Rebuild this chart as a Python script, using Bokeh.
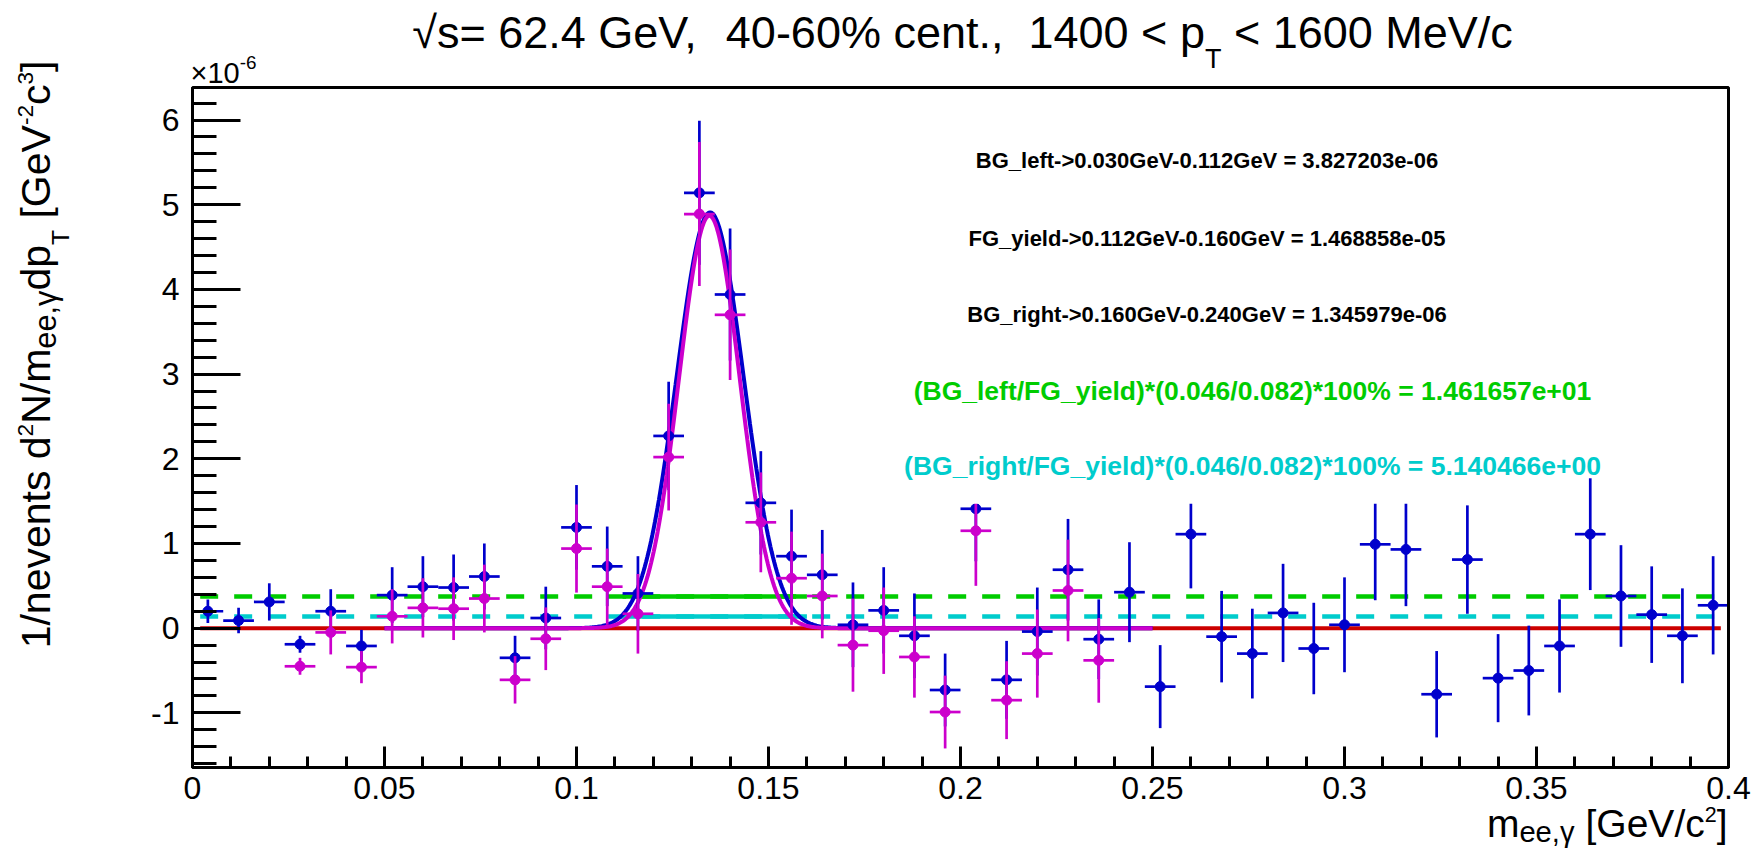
import math
import numpy as np
from bokeh.plotting import figure
from bokeh.models import Label, BoxAnnotation, SingleIntervalTicker, CustomJSTickFormatter, Range1d
from bokeh.embed import file_html
from bokeh.resources import INLINE

# ---------------- data (yields in units of 1e-6) ----------------
mass_bins = [0.004, 0.012, 0.020, 0.028, 0.036, 0.044, 0.052, 0.060, 0.068, 0.076,
             0.084, 0.092, 0.100, 0.108, 0.116, 0.124, 0.132, 0.140, 0.148, 0.156,
             0.164, 0.172, 0.180, 0.188, 0.196, 0.204, 0.212, 0.220, 0.228, 0.236,
             0.244, 0.252, 0.260, 0.268, 0.276, 0.284, 0.292, 0.300, 0.308, 0.316,
             0.324, 0.332, 0.340, 0.348, 0.356, 0.364, 0.372, 0.380, 0.388, 0.396]
raw_yield = [0.20, 0.09, 0.31, -0.19, 0.20, -0.21, 0.39, 0.49, 0.48, 0.61,
             -0.35, 0.12, 1.19, 0.73, 0.41, 2.27, 5.14, 3.94, 1.48, 0.85,
             0.63, 0.04, 0.21, -0.09, -0.73, 1.41, -0.61, -0.04, 0.69, -0.13,
             0.425, -0.69, 1.11, -0.10, -0.30, 0.18, -0.24, 0.04, 0.99, 0.93,
             -0.78, 0.81, -0.59, -0.50, -0.21, 1.11, 0.38, 0.16, -0.09, 0.27]
raw_err = [0.14, 0.15, 0.22, 0.10, 0.26, 0.19, 0.33, 0.36, 0.39, 0.39,
           0.26, 0.37, 0.50, 0.47, 0.44, 0.64, 0.85, 0.78, 0.61, 0.55,
           0.53, 0.50, 0.51, 0.50, 0.43, 0.62, 0.46, 0.52, 0.60, 0.47,
           0.59, 0.49, 0.64, 0.54, 0.53, 0.58, 0.54, 0.56, 0.66, 0.67,
           0.51, 0.64, 0.52, 0.53, 0.55, 0.66, 0.60, 0.57, 0.56, 0.58]

sub_mass = [0.028, 0.036, 0.044, 0.052, 0.060, 0.068, 0.076, 0.084, 0.092, 0.100,
            0.108, 0.116, 0.124, 0.132, 0.140, 0.148, 0.156, 0.164, 0.172, 0.180,
            0.188, 0.196, 0.204, 0.212, 0.220, 0.228, 0.236]
sub_yield = [-0.45, -0.05, -0.46, 0.14, 0.24, 0.23, 0.35, -0.61, -0.125, 0.94,
             0.49, 0.17, 2.02, 4.89, 3.70, 1.25, 0.59, 0.38, -0.20, -0.03,
             -0.34, -0.99, 1.15, -0.85, -0.30, 0.445, -0.38]
sub_err = [0.10, 0.26, 0.19, 0.32, 0.35, 0.37, 0.40, 0.28, 0.37, 0.52,
           0.45, 0.47, 0.63, 0.85, 0.77, 0.59, 0.55, 0.50, 0.55, 0.51,
           0.48, 0.43, 0.65, 0.46, 0.52, 0.60, 0.50]

bin_half_width = 0.004

bg_left_level = 0.373
bg_right_level = 0.137
fg_window = [0.112, 0.160]
level_span = [0.002, 0.398]

raw_fit = {"amp": 4.91, "mean": 0.1348, "sigma": 0.0087}
sub_fit = {"amp": 4.87, "mean": 0.1346, "sigma": 0.0079}
fit_span = [0.05, 0.25]

stat_lines = [
    ("BG_left->0.030GeV-0.112GeV = 3.827203e-06", "#000000"),
    ("FG_yield->0.112GeV-0.160GeV = 1.468858e-05", "#000000"),
    ("BG_right->0.160GeV-0.240GeV = 1.345979e-06", "#000000"),
    ("(BG_left/FG_yield)*(0.046/0.082)*100% = 1.461657e+01", "#00cc00"),
    ("(BG_right/FG_yield)*(0.046/0.082)*100% = 5.140466e+00", "#00cccc"),
]

BLUE, MAG, RED, GREEN, CYAN = "#0000cc", "#cc00cc", "#cc0000", "#00cc00", "#00cccc"
FONT = "Liberation Sans"
MID = 0.3465   # em offset from the alphabetic baseline to the text middle

# ---------------- page geometry (page pixels, origin top-left) ----------------
PAGE_W, PAGE_H = 1760, 850
FL, FR, FT, FB = 192, 1728, 87, 767   # the ROOT frame on the page
X0, X1 = 0.0, 0.4
Y0, Y1 = -1.645, 6.384


def dx(px):
    return X0 + (px - FL) * (X1 - X0) / (FR - FL)


def dy(py):
    return Y1 - (py - FT) * (Y1 - Y0) / (FB - FT)


REG = {' ': 278, '!': 278, '%': 889, '(': 333, ')': 333, '*': 389, '+': 584, ',': 278,
       '-': 333, '.': 278, '/': 278, ':': 278, '<': 584, '=': 584, '>': 584, '[': 278,
       ']': 278, '_': 556, '\u221a': 549, '\u03b3': 500, '\u00d7': 584,
       'A': 667, 'B': 667, 'C': 722, 'D': 722, 'E': 667, 'F': 611, 'G': 778, 'H': 722,
       'I': 278, 'J': 500, 'K': 667, 'L': 556, 'M': 833, 'N': 722, 'O': 778, 'P': 667,
       'Q': 778, 'R': 722, 'S': 667, 'T': 611, 'U': 722, 'V': 667, 'W': 944, 'X': 667,
       'Y': 667, 'Z': 611, 'a': 556, 'b': 556, 'c': 500, 'd': 556, 'e': 556, 'f': 278,
       'g': 556, 'h': 556, 'i': 222, 'j': 222, 'k': 500, 'l': 222, 'm': 833, 'n': 556,
       'o': 556, 'p': 556, 'q': 556, 'r': 333, 's': 500, 't': 278, 'u': 556, 'v': 500,
       'w': 722, 'x': 500, 'y': 500, 'z': 500}
for ch in "0123456789":
    REG[ch] = 556


def tw(s, size):
    return sum(REG.get(c, 556) for c in s) * size / 1000.0


def runs_width(runs, F):
    return sum(tw(t, F * sc) for t, sc, sh in runs)


# The whole canvas is the plotting frame; the axes are pinned to the ROOT frame edges.
p = figure(width=PAGE_W, height=PAGE_H,
           x_range=Range1d(dx(0), dx(PAGE_W)), y_range=Range1d(dy(PAGE_H), dy(0)),
           output_backend="svg", toolbar_location=None, title=None, min_border=0)
p.background_fill_color = "white"
p.border_fill_color = "white"
p.outline_line_color = None
p.grid.visible = False


def place_runs(runs, F, start, base, color, vertical=False):
    """Lay out runs of text (text, size scale, baseline shift in em) one after another."""
    pos = start
    for text, sc, sh in runs:
        size = F * sc
        w = tw(text, size)
        if text.strip():
            mid = base - sh * F - MID * size
            if vertical:
                lab = Label(x=dx(mid), y=dy(pos), angle=math.pi / 2, text=text)
            else:
                lab = Label(x=dx(pos), y=dy(mid), text=text)
            lab.text_font = FONT
            lab.text_font_size = "%.1fpx" % size
            lab.text_color = color
            lab.text_align = "left"
            lab.text_baseline = "middle"
            p.add_layout(lab)
        pos = pos - w if vertical else pos + w


# horizontal reference levels
p.line(level_span, [0, 0], line_color=RED, line_width=4)
p.line(level_span, [bg_left_level] * 2, line_color=GREEN, line_width=4.5, line_dash="18 16")
p.line(level_span, [bg_right_level] * 2, line_color=CYAN, line_width=4.5, line_dash="18 16")
p.line(fg_window, [bg_left_level] * 2, line_color=GREEN, line_width=4.5)
p.line(fg_window, [bg_right_level] * 2, line_color=CYAN, line_width=4.5)

# gaussian fits
xs = np.linspace(fit_span[0], fit_span[1], 600)
for fit, col in ((raw_fit, BLUE), (sub_fit, MAG)):
    ys = fit["amp"] * np.exp(-0.5 * ((xs - fit["mean"]) / fit["sigma"]) ** 2)
    p.line(xs, ys, line_color=col, line_width=4)

# data points with error bars
for xv, yv, ev, col in ((mass_bins, raw_yield, raw_err, BLUE),
                        (sub_mass, sub_yield, sub_err, MAG)):
    xa_ = np.array(xv)
    ya_ = np.array(yv)
    ea_ = np.array(ev)
    p.segment(x0=xa_, y0=ya_ - ea_, x1=xa_, y1=ya_ + ea_, line_color=col, line_width=2.7)
    p.segment(x0=xa_ - bin_half_width, y0=ya_, x1=xa_ + bin_half_width, y1=ya_,
              line_color=col, line_width=2.7)
    p.scatter(xa_, ya_, marker="circle", size=10, fill_color=col, line_color=col)

# frame box (top and right sides of the ROOT frame)
p.quad(left=[X0], right=[X1], bottom=[Y0], top=[Y1], fill_alpha=0.0,
       line_color="black", line_width=3)

# axes, pinned to the frame edges
xa = p.xaxis[0]
xa.fixed_location = Y0
xa.bounds = (X0, X1)
xa.ticker = SingleIntervalTicker(interval=0.05, num_minor_ticks=5)
xa.formatter = CustomJSTickFormatter(code="return (Math.round(tick*1000)/1000).toString();")
xa.major_tick_in = 21
xa.major_tick_out = 0
xa.minor_tick_in = 11
xa.minor_tick_out = 0
xa.major_label_standoff = 9

ya = p.yaxis[0]
ya.fixed_location = X0
ya.bounds = (Y0, Y1)
ya.ticker = SingleIntervalTicker(interval=1, num_minor_ticks=5)
ya.formatter = CustomJSTickFormatter(code="return (Math.round(tick*1000)/1000).toString();")
ya.major_tick_in = 48
ya.major_tick_out = 0
ya.minor_tick_in = 24
ya.minor_tick_out = 0
ya.major_label_standoff = 13

for ax in (xa, ya):
    ax.axis_line_color = "black"
    ax.axis_line_width = 3
    ax.major_tick_line_color = "black"
    ax.minor_tick_line_color = "black"
    ax.major_tick_line_width = 3
    ax.minor_tick_line_width = 3
    ax.major_label_text_font = FONT
    ax.major_label_text_font_size = "32px"
    ax.major_label_text_color = "black"
    ax.axis_label = None

# white stats pave (hides error bars under the text) and its text lines
p.add_layout(BoxAnnotation(left=dx(903), right=dx(1587), bottom=1.47, top=dy(150),
                           fill_color="white", fill_alpha=1.0, line_alpha=0.0))

stat_centers = [1206.5, 1206.5, 1206.5, 1252, 1252]
stat_base = [168, 245.5, 321.5, 399.5, 474.5]
stat_size = [22, 22, 22, 26.5, 26.5]
for (txt, col), cx, by, fs in zip(stat_lines, stat_centers, stat_base, stat_size):
    p.add_layout(Label(x=dx(cx), y=dy(by - MID * fs), text=txt, text_font=FONT,
                       text_font_style="bold", text_font_size="%.1fpx" % fs,
                       text_color=col, text_align="center", text_baseline="middle"))

# title
title_runs = [("\u221as= 62.4 GeV,", 1, 0), ("  ", 1, 0), ("40-60% cent.,", 1, 0),
              ("  ", 1, 0), ("1400 < p", 1, 0), ("T", 0.6, -0.45), (" ", 1, 0),
              ("< 1600 MeV/c", 1, 0)]
TF = 45
place_runs(title_runs, TF, 962 - runs_width(title_runs, TF) / 2, 48, "black")

# exponent marker above the y axis
exp_runs = [("\u00d710", 1, 0), ("-6", 0.65, 0.5)]
place_runs(exp_runs, 29, 190, 83, "black")

# y-axis title
ylab_runs = [("1/nevents d", 1, 0), ("2", 0.55, 0.42), ("N/m", 1, 0),
             ("ee,\u03b3", 0.75, -0.13), ("dp", 1, 0), ("T", 0.6, -0.45), (" ", 1, 0),
             ("[GeV", 1, 0), ("-2", 0.55, 0.42), ("c", 1, 0), ("3", 0.55, 0.42), ("]", 1, 0)]
YF = 41
place_runs(ylab_runs, YF, 354 + runs_width(ylab_runs, YF) / 2, 50, "black", vertical=True)

# x-axis title
xlab_runs = [("m", 1, 0), ("ee,\u03b3", 0.75, -0.12), (" ", 1, 0), ("[GeV/c", 1, 0),
             ("2", 0.55, 0.40), ("]", 1, 0)]
XF = 39
place_runs(xlab_runs, XF, 1727 - runs_width(xlab_runs, XF), 837, "black")

open("out.html", "w").write(file_html(p, INLINE))
